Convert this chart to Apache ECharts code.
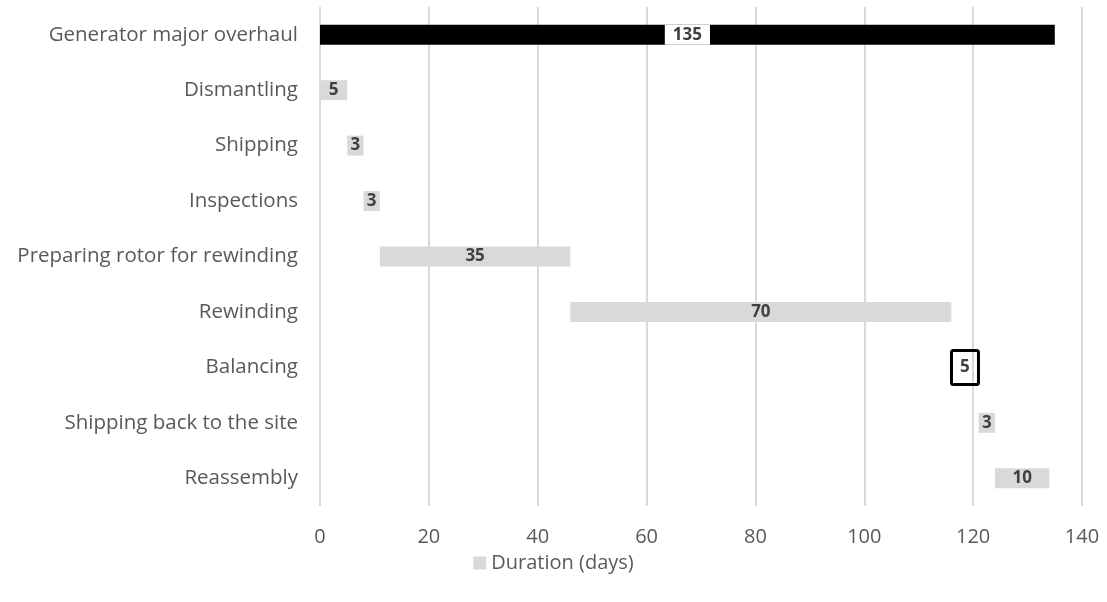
<!DOCTYPE html>
<html><head><meta charset="utf-8">
<script src="https://cdn.jsdelivr.net/npm/echarts@6/dist/echarts.min.js"></script>
<style>html,body{margin:0;padding:0;background:#fff}#c{width:1107px;height:602px}</style>
</head><body><div id="c"></div>
<script>
const categories = ["Generator major overhaul","Dismantling","Shipping","Inspections","Preparing rotor for rewinding","Rewinding","Balancing","Shipping back to the site","Reassembly"];
const startDays = [0,0,5,8,11,46,116,121,124];
const durations = [135,5,3,3,35,70,5,3,10];
const xTicks = [0,20,40,60,80,100,120,140];

const font = "'Open Sans', sans-serif";
const durData = durations.map((v,i)=>{
  if(i===0) return {value:v, itemStyle:{color:'#000'}, label:{backgroundColor:'#fff', padding:[2,8,0,8], lineHeight:18}};
  if(i===6) return {value:v, itemStyle:{color:'transparent'},
    label:{borderColor:'#000', borderWidth:3, borderRadius:2, width:27, height:34, align:'center', verticalAlign:'middle', padding:0}};
  return {value:v};
});
const chart = echarts.init(document.getElementById('c'));
chart.setOption({
  animation:false,
  textStyle:{fontFamily:font},
  grid:{left:320,right:25,top:7,bottom:96,containLabel:false},
  legend:{data:['Duration (days)'],bottom:24,left:'center',itemWidth:13,itemHeight:13,icon:'rect',itemGap:5,
    textStyle:{fontFamily:font,fontSize:20,color:'#595959'}},
  xAxis:{type:'value',min:0,max:140,interval:20,
    axisLine:{show:false},axisTick:{show:false},
    axisLabel:{fontFamily:font,fontSize:20,color:'#595959',margin:21,formatter:v=>xTicks.includes(v)?String(v):''},
    splitLine:{lineStyle:{color:'#d9d9d9',width:2}}},
  yAxis:{type:'category',data:categories,inverse:true,
    axisLine:{show:false},axisTick:{show:false},
    axisLabel:{fontFamily:font,fontSize:20.5,color:'#595959',margin:22}},
  series:[
    {name:'Start',type:'bar',stack:'g',data:startDays,itemStyle:{color:'transparent'},barWidth:20,silent:true},
    {name:'Duration (days)',type:'bar',stack:'g',data:durData,barWidth:20,
      itemStyle:{color:'#d9d9d9'},
      label:{show:true,position:'inside',fontFamily:font,fontSize:17,fontWeight:'bold',color:'#404040'}}
  ]
});
</script></body></html>
